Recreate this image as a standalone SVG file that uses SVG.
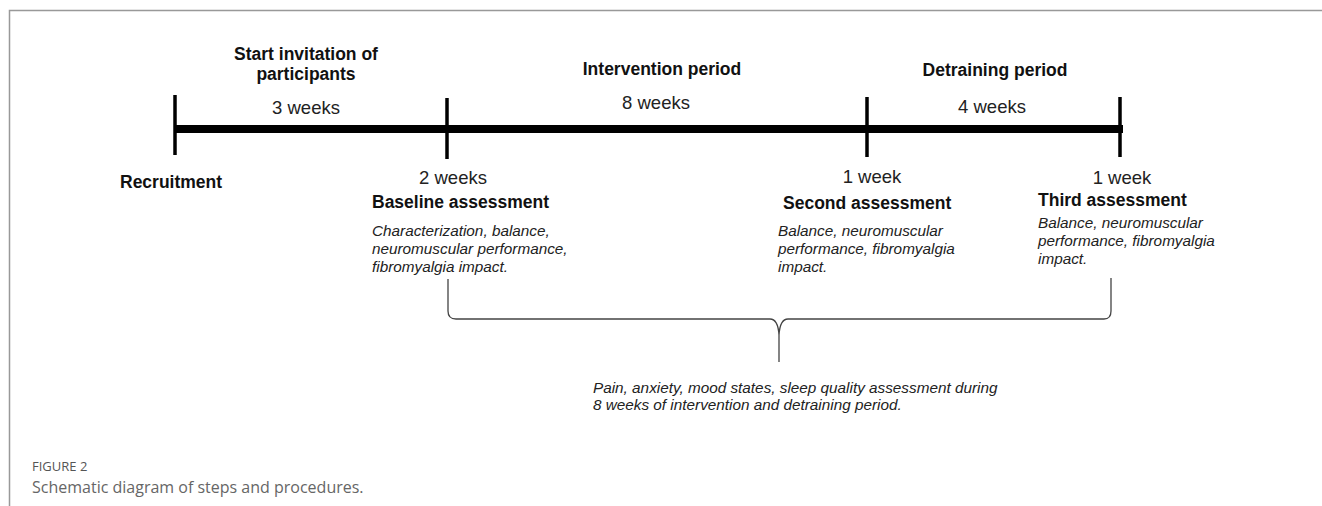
<svg xmlns="http://www.w3.org/2000/svg" width="1322" height="506" viewBox="0 0 1322 506">
<style>
.b{font-family:"Liberation Sans",Arial,sans-serif;font-weight:bold;font-size:17.5px;fill:#111}
.n{font-family:"Liberation Sans",Arial,sans-serif;font-size:18.5px;fill:#222}
.i{font-family:"Liberation Sans",Arial,sans-serif;font-style:italic;font-size:15.3px;fill:#222}
.c{text-anchor:middle}
.tick{stroke:#000;stroke-width:3.5}
.cap1{font-family:"Open Sans",sans-serif;font-size:13px;fill:#555}
.cap2{font-family:"Open Sans",sans-serif;font-size:16px;fill:#666}
</style>
<rect width="1322" height="506" fill="#fff"/>
<g id="frame" fill="none" stroke="#999" stroke-width="1.5">
<path d="M9.5,506 V10.5 H1322"/>
</g>
<g id="timeline">
<rect x="175" y="125" width="948" height="8" fill="#000"/>
<line class="tick" x1="175" y1="95" x2="175" y2="155"/>
<line class="tick" x1="447" y1="98" x2="447" y2="159"/>
<line class="tick" x1="867" y1="97" x2="867" y2="157"/>
<line class="tick" x1="1120" y1="97" x2="1120" y2="157"/>
</g>
<g id="connectors">
<path d="M448,279 V311 Q448,319 456,319 H770 Q778,319 779,335 V362 M779,335 Q780,319 788,319 H1104 Q1111,319 1111,311 V278" fill="none" stroke="#444" stroke-width="1.3"/>
</g>
<g id="recruitment">
<text class="b" x="120" y="188">Recruitment</text>
</g>
<g id="start-invitation">
<text class="b c" x="306" y="60">Start invitation of</text>
<text class="b c" x="306" y="80">participants</text>
<text class="n c" x="306" y="114">3 weeks</text>
</g>
<g id="intervention">
<text class="b c" x="662" y="75">Intervention period</text>
<text class="n c" x="656" y="109">8 weeks</text>
</g>
<g id="detraining">
<text class="b c" x="995" y="76">Detraining period</text>
<text class="n c" x="992" y="113">4 weeks</text>
</g>
<g id="baseline">
<text class="n c" x="453" y="184">2 weeks</text>
<text class="b" x="372" y="208">Baseline assessment</text>
<text class="i" x="372" y="236">Characterization, balance,</text>
<text class="i" x="372" y="254">neuromuscular performance,</text>
<text class="i" x="372" y="272">fibromyalgia impact.</text>
</g>
<g id="second">
<text class="n c" x="872" y="183">1 week</text>
<text class="b" x="783" y="209">Second assessment</text>
<text class="i" x="778" y="236">Balance, neuromuscular</text>
<text class="i" x="778" y="254">performance, fibromyalgia</text>
<text class="i" x="778" y="272">impact.</text>
</g>
<g id="third">
<text class="n c" x="1122" y="184">1 week</text>
<text class="b" x="1038" y="206">Third assessment</text>
<text class="i" x="1038" y="228">Balance, neuromuscular</text>
<text class="i" x="1038" y="246">performance, fibromyalgia</text>
<text class="i" x="1038" y="264">impact.</text>
</g>
<g id="ongoing">
<text class="i" x="593" y="393">Pain, anxiety, mood states, sleep quality assessment during</text>
<text class="i" x="593" y="410">8 weeks of intervention and detraining period.</text>
</g>
<g id="caption">
<text class="cap1" x="32" y="471">FIGURE 2</text>
<text class="cap2" x="32" y="493">Schematic diagram of steps and procedures.</text>
</g>
</svg>
